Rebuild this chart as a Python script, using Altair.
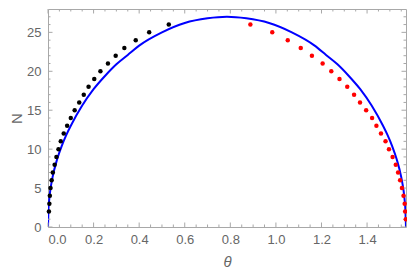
import altair as alt
import pandas as pd

# Blue curve
curve_theta = [0.0, 0.002, 0.005, 0.01, 0.02, 0.04, 0.06, 0.08, 0.10, 0.15, 0.20, 0.25,
               0.30, 0.35, 0.40, 0.50, 0.60, 0.70, 0.785, 0.87, 0.97, 1.07, 1.17, 1.22,
               1.27, 1.32, 1.37, 1.42, 1.47, 1.49, 1.51, 1.53, 1.55, 1.56, 1.565, 1.568, 1.5708]
curve_n = [0.0, 2.3, 3.4, 4.7, 6.4, 8.7, 10.4, 11.8, 13.0, 15.6, 17.7, 19.4,
           20.9, 22.1, 23.3, 25.0, 26.2, 26.8, 27.0, 26.8, 26.2, 25.0, 23.3, 22.1,
           20.9, 19.4, 17.7, 15.6, 13.0, 11.8, 10.4, 8.7, 6.4, 4.7, 3.4, 2.3, 0.0]

# Black dots
black_theta = [0.004, 0.006, 0.008, 0.011, 0.016, 0.021, 0.029, 0.037, 0.046, 0.056,
               0.069, 0.084, 0.100, 0.117, 0.137, 0.157, 0.178, 0.203, 0.230, 0.263,
               0.297, 0.335, 0.385, 0.444, 0.530]
black_n = [2, 3, 4, 5, 6, 7, 8, 9, 10, 11, 12, 13, 14, 15, 16, 17, 18, 19, 20, 21,
           22, 23, 24, 25, 26]

# Red dots
red_theta = [1.570, 1.567, 1.565, 1.560, 1.553, 1.545, 1.536, 1.526, 1.512, 1.496,
             1.481, 1.461, 1.441, 1.422, 1.396, 1.369, 1.343, 1.313, 1.279, 1.243,
             1.205, 1.158, 1.109, 1.052, 0.984, 0.888]
red_n = [1, 2, 3, 4, 5, 6, 7, 8, 9, 10, 11, 12, 13, 14, 15, 16, 17, 18, 19, 20,
         21, 22, 23, 24, 25, 26]

# Ticks
x_major = [0.0, 0.2, 0.4, 0.6, 0.8, 1.0, 1.2, 1.4]
x_minor = [0.05, 0.1, 0.15, 0.25, 0.3, 0.35, 0.45, 0.5, 0.55, 0.65, 0.7, 0.75,
           0.85, 0.9, 0.95, 1.05, 1.1, 1.15, 1.25, 1.3, 1.35, 1.45, 1.5, 1.55]
y_major = [0, 5, 10, 15, 20, 25]
y_minor = [1, 2, 3, 4, 6, 7, 8, 9, 11, 12, 13, 14, 16, 17, 18, 19, 21, 22, 23, 24, 26, 27]

W, H = 358, 218
MAJ, MIN = 4.5, 2.5
FRAME = "#a8a8a8"
LABEL = "#666666"

xscale = alt.Scale(domain=[0, 1.5708], nice=False, zero=False)
yscale = alt.Scale(domain=[0, 28], nice=False, zero=False)

df_curve = pd.DataFrame({"theta": curve_theta, "N": curve_n})
df_black = pd.DataFrame({"theta": black_theta, "N": black_n})
df_red = pd.DataFrame({"theta": red_theta, "N": red_n})

xaxis = alt.Axis(values=x_major, format=".1f", title="θ", ticks=False, tickSize=0,
                 domain=False, grid=False, labelPadding=6, titlePadding=8,
                 titleFontStyle="italic", titleFontWeight="normal", titleFontSize=15)
yaxis = alt.Axis(values=y_major, format="d", title="N", ticks=False, tickSize=0,
                 domain=False, grid=False, labelPadding=7, titlePadding=2,
                 titleFontWeight="normal", titleFontSize=15)

curve = alt.Chart(df_curve).mark_line(color="#0000ff", strokeWidth=2,
                                       interpolate="monotone", clip=True).encode(
    x=alt.X("theta:Q", scale=xscale, axis=xaxis),
    y=alt.Y("N:Q", scale=yscale, axis=yaxis),
)
black = alt.Chart(df_black).mark_circle(size=20, color="black", opacity=1).encode(
    x=alt.X("theta:Q", scale=xscale, axis=xaxis), y=alt.Y("N:Q", scale=yscale, axis=yaxis))
red = alt.Chart(df_red).mark_circle(size=20, color="#ff0000", opacity=1).encode(
    x=alt.X("theta:Q", scale=xscale, axis=xaxis), y=alt.Y("N:Q", scale=yscale, axis=yaxis))


def xticks(vals, y0, y1):
    return alt.Chart(pd.DataFrame({"theta": vals})).mark_rule(color=FRAME, strokeWidth=1).encode(
        x=alt.X("theta:Q", scale=xscale, axis=xaxis), y=alt.value(y0), y2=alt.value(y1))


def yticks(vals, x0, x1):
    return alt.Chart(pd.DataFrame({"N": vals})).mark_rule(color=FRAME, strokeWidth=1).encode(
        y=alt.Y("N:Q", scale=yscale, axis=yaxis), x=alt.value(x0), x2=alt.value(x1))


ticks = [
    xticks(x_major, H, H - MAJ), xticks(x_minor, H, H - MIN),
    xticks(x_major, 0, MAJ), xticks(x_minor, 0, MIN),
    yticks(y_major, 0, MAJ), yticks(y_minor, 0, MIN),
    yticks(y_major, W, W - MAJ), yticks(y_minor, W, W - MIN),
]

chart = alt.layer(curve, *ticks, black, red).properties(
    width=W, height=H,
    autosize=alt.AutoSizeParams(type="none"),
    padding={"left": 40, "top": 1, "right": 1, "bottom": 45},
).configure_view(stroke=FRAME, strokeWidth=1).configure_axis(
    labelFont="Liberation Sans", titleFont="Liberation Sans",
    labelFontSize=13, labelColor=LABEL, titleColor=LABEL,
)

chart.save("out.html", embed_options={"renderer": "svg", "actions": False})
